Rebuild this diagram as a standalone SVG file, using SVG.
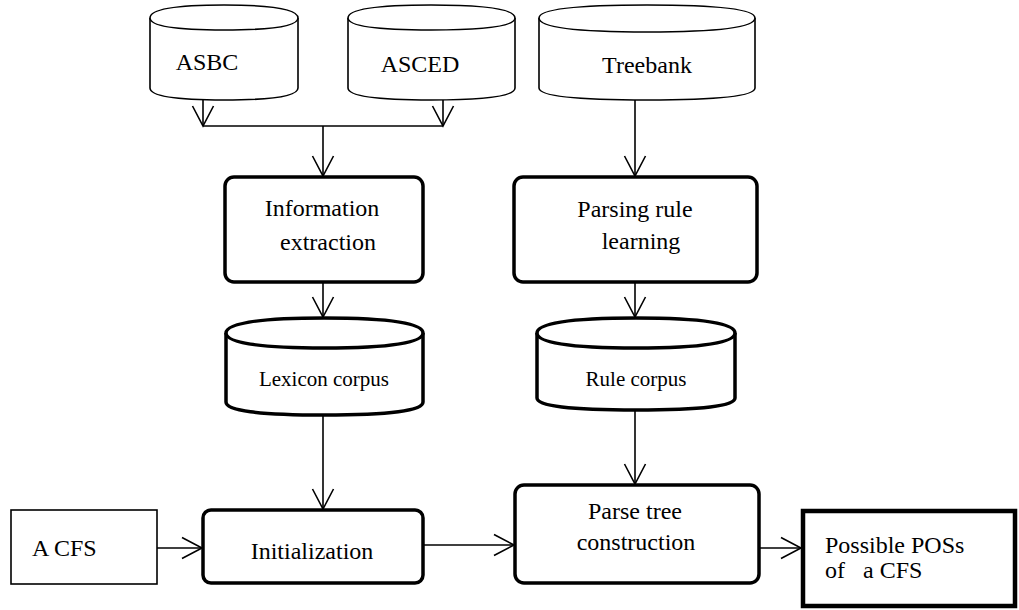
<svg xmlns="http://www.w3.org/2000/svg" width="1019" height="610" viewBox="0 0 1019 610">
<style>
  .t { font-family: "Liberation Serif", "Times New Roman", serif; font-size: 24px; fill: #000; }
  .ts { font-family: "Liberation Serif", "Times New Roman", serif; font-size: 21px; fill: #000; }
  .cyl { fill: #fff; stroke: #000; stroke-width: 1.6; }
  .cylb { fill: #fff; stroke: #000; stroke-width: 3.5; }
  .rbox { fill: #fff; stroke: #000; stroke-width: 3.5; }
  .box { fill: #fff; stroke: #000; stroke-width: 1.6; }
  .bbox { fill: #fff; stroke: #000; stroke-width: 4.5; }
  .ln { fill: none; stroke: #000; stroke-width: 1.6; }
</style>
<defs>
  <marker id="arr" viewBox="0 0 24 24" refX="22" refY="12" markerWidth="24" markerHeight="24" markerUnits="userSpaceOnUse" orient="auto">
    <path d="M2,1.5 L22,12 L2,22.5" fill="none" stroke="#000" stroke-width="1.6"/>
  </marker>
</defs>
<rect width="1019" height="610" fill="#fff"/>

<g id="connectors">
  <line class="ln" x1="203" y1="100" x2="203" y2="126" marker-end="url(#arr)"/>
  <line class="ln" x1="443" y1="100" x2="443" y2="126" marker-end="url(#arr)"/>
  <line class="ln" x1="203" y1="126" x2="443" y2="126"/>
  <line class="ln" x1="323" y1="126" x2="323" y2="176" marker-end="url(#arr)"/>
  <line class="ln" x1="635" y1="100" x2="635" y2="176" marker-end="url(#arr)"/>
  <line class="ln" x1="323" y1="282" x2="323" y2="317" marker-end="url(#arr)"/>
  <line class="ln" x1="635" y1="282" x2="635" y2="317" marker-end="url(#arr)"/>
  <line class="ln" x1="323" y1="415" x2="323" y2="509" marker-end="url(#arr)"/>
  <line class="ln" x1="635" y1="410" x2="635" y2="484" marker-end="url(#arr)"/>
  <line class="ln" x1="157" y1="548" x2="202" y2="548" marker-end="url(#arr)"/>
  <line class="ln" x1="423" y1="545" x2="514" y2="545" marker-end="url(#arr)"/>
  <line class="ln" x1="759" y1="548" x2="801" y2="548" marker-end="url(#arr)"/>
</g>

<g id="asbc">
  <path class="cyl" d="M150,18 Q150,5 224,5 Q298,5 298,18 L298,88 Q298,100 224,100 Q150,100 150,88 Z"/>
  <path class="cyl" fill="none" d="M150,18 Q150,30 224,30 Q298,30 298,18"/>
  <text class="t" x="207" y="70" text-anchor="middle">ASBC</text>
</g>

<g id="asced">
  <path class="cyl" d="M348,18 Q348,5 431,5 Q515,5 515,18 L515,88 Q515,100 431,100 Q348,100 348,88 Z"/>
  <path class="cyl" fill="none" d="M348,18 Q348,30 431,30 Q515,30 515,18"/>
  <text class="t" x="420" y="72" text-anchor="middle">ASCED</text>
</g>

<g id="treebank">
  <path class="cyl" d="M539,18 Q539,5 647,5 Q755,5 755,18 L755,88 Q755,100 647,100 Q539,100 539,88 Z"/>
  <path class="cyl" fill="none" d="M539,18 Q539,32 647,32 Q755,32 755,18"/>
  <text class="t" x="647" y="73" text-anchor="middle">Treebank</text>
</g>

<g id="info-extraction">
  <rect class="rbox" x="225" y="177" width="198" height="105" rx="9"/>
  <text class="t" x="322" y="216" text-anchor="middle">Information</text>
  <text class="t" x="328" y="250" text-anchor="middle">extraction</text>
</g>

<g id="parsing-rule-learning">
  <rect class="rbox" x="514" y="177" width="243" height="105" rx="9"/>
  <text class="t" x="635" y="217" text-anchor="middle">Parsing rule</text>
  <text class="t" x="641" y="249" text-anchor="middle">learning</text>
</g>

<g id="lexicon-corpus">
  <path class="cylb" d="M226,333 Q226,318 324,318 Q423,318 423,333 L423,402 Q423,415 324,415 Q226,415 226,402 Z"/>
  <path class="cylb" fill="none" stroke-width="1.8" d="M226,333 Q226,348 324,348 Q423,348 423,333"/>
  <text class="ts" x="324" y="386" text-anchor="middle">Lexicon corpus</text>
</g>

<g id="rule-corpus">
  <path class="cylb" d="M537,333 Q537,318 636,318 Q735,318 735,333 L735,398 Q735,410 636,410 Q537,410 537,398 Z"/>
  <path class="cylb" fill="none" stroke-width="1.8" d="M537,333 Q537,348 636,348 Q735,348 735,333"/>
  <text class="ts" x="636" y="386" text-anchor="middle">Rule corpus</text>
</g>

<g id="a-cfs">
  <rect class="box" x="11" y="510" width="146" height="74"/>
  <text class="t" x="32" y="556">A CFS</text>
</g>

<g id="initialization">
  <rect class="rbox" x="203" y="510" width="220" height="73" rx="8"/>
  <text class="t" x="312" y="559" text-anchor="middle">Initialization</text>
</g>

<g id="parse-tree-construction">
  <rect class="rbox" x="515" y="485" width="244" height="98" rx="9"/>
  <text class="t" x="635" y="519" text-anchor="middle">Parse tree</text>
  <text class="t" x="636" y="550" text-anchor="middle">construction</text>
</g>

<g id="possible-poss">
  <rect class="bbox" x="803" y="511" width="212" height="95"/>
  <text class="t" x="825" y="553">Possible POSs</text>
  <text class="t" x="825" y="578" xml:space="preserve">of   a CFS</text>
</g>
</svg>
